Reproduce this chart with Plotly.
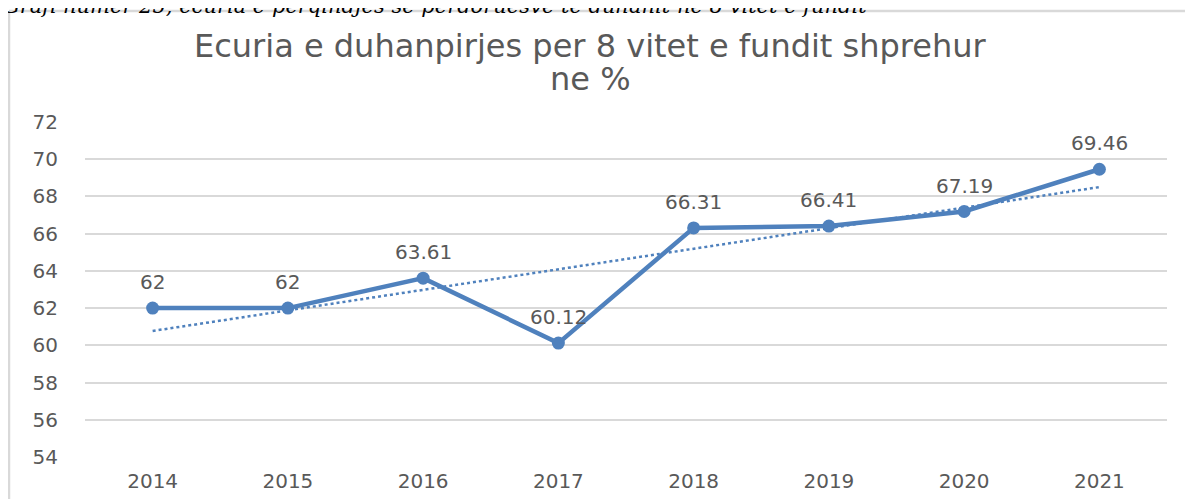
import numpy as np
import plotly.graph_objects as go

years = ["2014", "2015", "2016", "2017", "2018", "2019", "2020", "2021"]
values = [62, 62, 63.61, 60.12, 66.31, 66.41, 67.19, 69.46]
value_labels = ["62", "62", "63.61", "60.12", "66.31", "66.41", "67.19", "69.46"]
y_ticks = [54, 56, 58, 60, 62, 64, 66, 68, 70, 72]

title_line1 = "Ecuria e duhanpirjes per 8 vitet e fundit shprehur"
title_line2 = "ne %"
caption_text = "Grafi numer 25, ecuria e perqindjes se perdoruesve te duhanit ne 8 vitet e fundit"

# linear trendline (least squares) computed from the data
xi = np.arange(len(values))
slope, intercept = np.polyfit(xi, values, 1)
trend = slope * xi + intercept

# page has an 8px body margin, so the figure is drawn 8px in from the corner
OFF = 8
W, H = 1193 - OFF, 499 - OFF
ml, mr, mt, mb = 77, 26, 114, 42
pw, ph = W - ml - mr, H - mt - mb

def px_x(p):  # p: pixel in the page
    return (p - OFF - ml) / pw

def px_y(p):
    return 1 - (p - OFF - mt) / ph

blue = "#4F81BD"
gray = "#595959"
font = "DejaVu Sans"

fig = go.Figure()
fig.add_trace(go.Scatter(
    x=years, y=trend, mode="lines",
    line=dict(color=blue, width=2.5, dash="dot"),
    showlegend=False, hoverinfo="skip",
))
fig.add_trace(go.Scatter(
    x=years, y=values, mode="lines+markers",
    line=dict(color=blue, width=4.5),
    marker=dict(color=blue, size=13),
    cliponaxis=False, showlegend=False,
))

# data labels: category index positions on the category axis
annotations = [
    dict(x=i, y=v, text=lab, xref="x", yref="y", showarrow=False,
         yshift=26, xanchor="center", yanchor="middle",
         font=dict(family=font, size=20, color=gray))
    for i, (v, lab) in enumerate(zip(values, value_labels))
]
annotations += [
    dict(text=title_line1, xref="paper", yref="paper", x=px_x(590), y=px_y(46),
         xanchor="center", yanchor="middle", showarrow=False,
         font=dict(family=font, size=32, color=gray)),
    dict(text=title_line2, xref="paper", yref="paper", x=px_x(590), y=px_y(79),
         xanchor="center", yanchor="middle", showarrow=False,
         font=dict(family=font, size=32, color=gray)),
    dict(text=caption_text, xref="paper", yref="paper", x=px_x(1), y=px_y(20),
         xanchor="left", yanchor="bottom", showarrow=False,
         font=dict(family="DejaVu Serif", size=21, color="black", style="italic")),
]

fig.update_layout(
    width=W, height=H,
    margin=dict(l=ml, r=mr, t=mt, b=mb),
    paper_bgcolor="white", plot_bgcolor="white",
    font=dict(family=font, color=gray),
    xaxis=dict(type="category", categoryorder="array", categoryarray=years,
               range=[-0.5, len(years) - 0.5], automargin=False,
               showgrid=False, showline=False, zeroline=False,
               tickfont=dict(family=font, size=20, color=gray),
               ticks="", ticklabelstandoff=10),
    yaxis=dict(range=[54, 72], tickvals=y_ticks, showgrid=True, automargin=False,
               gridcolor="#D9D9D9", gridwidth=1.5, zeroline=False, showline=False,
               tickfont=dict(family=font, size=20, color=gray),
               ticks="", ticklabelstandoff=26),
    shapes=[
        dict(type="line", xref="paper", yref="paper", x0=px_x(9), x1=px_x(1200),
             y0=px_y(11), y1=px_y(11), line=dict(color="#D9D9D9", width=2.5)),
        dict(type="line", xref="paper", yref="paper", x0=px_x(9), x1=px_x(9),
             y0=px_y(11), y1=px_y(505), line=dict(color="#D9D9D9", width=2.5)),
    ],
    annotations=annotations,
)

fig.write_html("out.html")
